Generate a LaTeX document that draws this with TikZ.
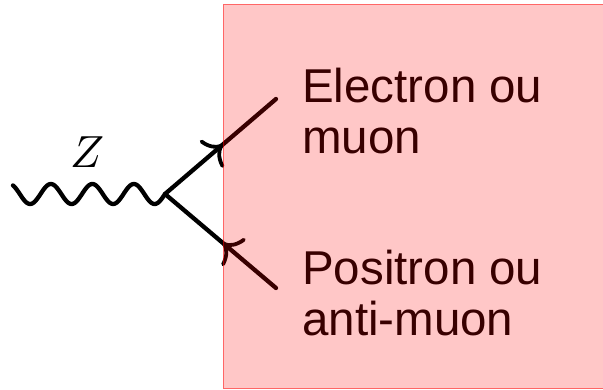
\documentclass[tikz,border=0pt]{standalone}
\usepackage{fontspec}
\setmainfont{Liberation Sans}
\usetikzlibrary{decorations.markings,arrows.meta}
\begin{document}
\begin{tikzpicture}[x=1pt,y=-1pt,
  fermion/.style={line width=4.3pt,line cap=round,
    postaction={decorate},
    decoration={markings,mark=at position 0.52 with {\arrow[line width=3.8pt]{Computer Modern Rightarrow[length=16pt,width=36pt]}}}},
  antifermion/.style={line width=4.3pt,line cap=round,
    postaction={decorate},
    decoration={markings,mark=at position 0.52 with {\arrowreversed[line width=3.8pt]{Computer Modern Rightarrow[length=16pt,width=36pt]}}}},
  boson/.style={line width=4.3pt,line cap=round,line join=round},
  lbl/.style={font=\fontsize{47.5}{51.5}\selectfont,align=left,inner sep=0pt,text=black}]
\useasboundingbox (0,0) rectangle (603,390);
\coordinate (v) at (165,194);
\coordinate (w) at (13,193);
\coordinate (e) at (276,99);
\coordinate (p) at (276,288);
\draw[boson] plot[domain=13:165,samples=160,smooth] (\x,{194+10*sin(8.675*(165-\x))});
\draw[fermion] (v) -- (e);
\draw[antifermion] (v) -- (p);
\node[scale=4.5] (zl) at (87,152) {$Z$};
\node[lbl,anchor=base west] (el) at (302,154) {Electron ou\\muon};
\node[lbl,anchor=base west] (po) at (302,336) {Positron ou\\anti-muon};
\fill[red,fill opacity=0.22] (223.5,5) rectangle (610,388);
\draw[red,draw opacity=0.6,line width=1pt] (610,5) -- (223.5,5) -- (223.5,388) -- (610,388);
\end{tikzpicture}
\end{document}
